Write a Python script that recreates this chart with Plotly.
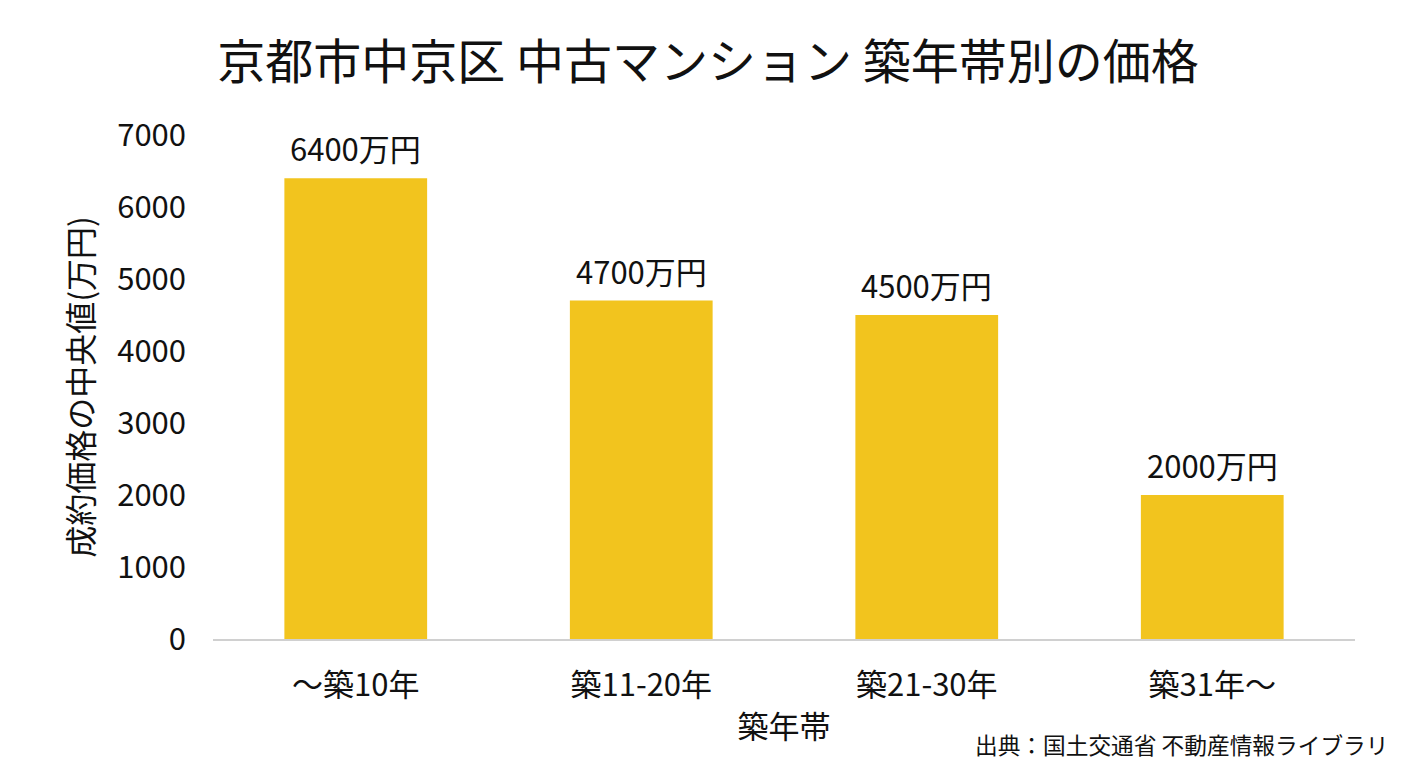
import plotly.graph_objects as go

categories = ["～築10年", "築11-20年", "築21-30年", "築31年～"]
prices = [6400, 4700, 4500, 2000]
labels = ["6400万円", "4700万円", "4500万円", "2000万円"]
ytickvals = [0, 1000, 2000, 3000, 4000, 5000, 6000, 7000]

FONT = "Noto Sans CJK JP"

fig = go.Figure(go.Bar(
    x=categories,
    y=prices,
    marker=dict(color="#F2C41E", line=dict(width=0)),
    width=0.5,
))

# value labels above bars
for cat, val, lab in zip(categories, prices, labels):
    fig.add_annotation(x=cat, y=val, text=lab, showarrow=False,
                       yanchor="bottom", yshift=6,
                       font=dict(size=31, color="#111111", family=FONT))

# page has an 8px body margin, so the figure is 1400x760
fig.update_layout(
    width=1400, height=760,
    margin=dict(l=205, r=53, t=127, b=129),
    paper_bgcolor="white", plot_bgcolor="white",
    font=dict(family=FONT, color="#111111"),
    title=dict(text="京都市中京区 中古マンション 築年帯別の価格",
               x=0.5, xanchor="center", y=0.929, yanchor="middle",
               font=dict(size=48, color="#111111", family=FONT)),
    showlegend=False,
)
fig.add_annotation(text="出典：国土交通省 不動産情報ライブラリ",
                   xref="paper", yref="paper", x=1.031, y=-0.21,
                   xanchor="right", yanchor="middle", showarrow=False,
                   font=dict(size=22.7, color="#111111", family=FONT))

fig.update_xaxes(
    showgrid=False, showline=True, linecolor="#d0d0d0", linewidth=1.5,
    ticks="", tickfont=dict(size=31, family=FONT), ticklabelstandoff=18,
    title=dict(text="築年帯", font=dict(size=31, family=FONT), standoff=12),
)
fig.update_yaxes(
    range=[0, 7000], tickvals=ytickvals, showgrid=False, zeroline=False,
    showline=False, ticks="", tickfont=dict(size=31, family=FONT),
    ticklabelstandoff=26,
    title=dict(text="成約価格の中央値(万円)", font=dict(size=32, family=FONT), standoff=13),
)

fig.write_html("out.html")
